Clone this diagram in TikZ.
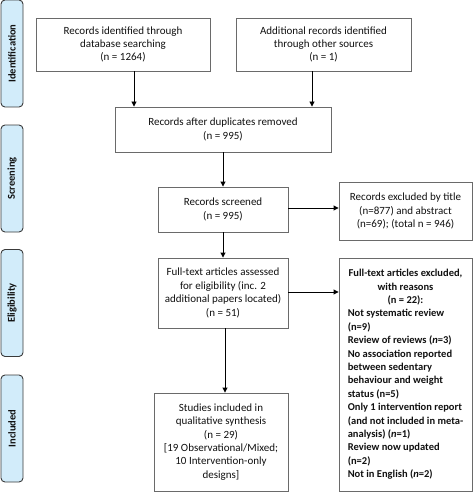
\documentclass[tikz,border=0pt]{standalone}
\usepackage{fontspec}
\setmainfont{Carlito}
\usetikzlibrary{arrows.meta}
\definecolor{boxline}{HTML}{6A6A6A}
\definecolor{txt}{HTML}{111111}
\definecolor{phasefill}{HTML}{D2ECFA}
\definecolor{phaseline}{HTML}{3A3A3A}
\tikzset{
  x=1pt, y=-1pt,
  basebox/.style={draw=boxline, line width=0.9pt, fill=white, text=txt,
    inner sep=2pt, font=\fontsize{11}{13.4}\selectfont},
  box/.style={basebox, align=center},
  phase/.style={draw=phaseline, line width=0.9pt, fill=phasefill, rounded corners=4pt,
    rotate=90, minimum width=107pt, minimum height=22pt, inner sep=0pt,
    text=txt, font=\bfseries\fontsize{10.5}{12}\selectfont},
  arr/.style={draw=black, line width=0.9pt, -{Triangle[length=5pt,width=5pt]}},
}
\newcommand{\hdline}[1]{\multicolumn{1}{@{}c@{}}{#1}}
\begin{document}
\begin{tikzpicture}
\useasboundingbox (0,0) rectangle (473,492);
% phase labels
\node[phase] (pid) at (12,53.5) {Identification};
\node[phase] (psc) at (12,178.5) {Screening};
\node[phase] (pel) at (12,303) {Eligibility};
\node[phase] (pin) at (12,428.5) {Included};
% boxes
\node[box, minimum width=174pt, minimum height=53pt] (b1) at (123,44.5)
  {Records identified through\\database searching\\(n = 1264)};
\node[box, minimum width=175pt, minimum height=53pt] (b2) at (323.5,44.5)
  {Additional records identified\\through other sources\\(n = 1)};
\node[box, minimum width=216pt, minimum height=45pt] (b3) at (223,129.5)
  {Records after duplicates removed\\(n = 995)};
\node[box, minimum width=130pt, minimum height=45pt] (b4) at (223,209.5)
  {Records screened\\(n = 995)};
\node[box, minimum width=133pt, minimum height=58pt] (b5) at (405.5,211)
  {Records excluded by title\\(n=877) and abstract\\(n=69); (total n = 946)};
\node[box, minimum width=130pt, minimum height=70pt] (b6) at (223,293)
  {Full-text articles assessed\\for eligibility (inc. 2\\additional papers located)\\(n = 51)};
\node[basebox, minimum width=133pt, minimum height=233pt, inner xsep=4pt,
      font=\bfseries\fontsize{10.5}{13.4}\selectfont] (b7) at (405.5,374.5)
  {\renewcommand{\arraystretch}{1}\setlength{\tabcolsep}{0pt}%
   \begin{tabular}{@{}l@{}}
   \hdline{Full-text articles excluded,}\\
   \hdline{with reasons}\\
   \hdline{(n = 22):}\\
   Not systematic review\\
   (n=9)\\
   Review of reviews (\textit{n}=3)\\
   No association reported\\
   between sedentary\\
   behaviour and weight\\
   status (n=5)\\
   Only 1 intervention report\\
   (and not included in meta-\\
   analysis) (\textit{n}=1)\\
   Review now updated\\
   (n=2)\\
   Not in English (\textit{n}=2)
   \end{tabular}};
\node[box, minimum width=134pt, minimum height=98pt] (b8) at (221,442)
  {Studies included in\\qualitative synthesis\\(n = 29)\\{[}19 Observational/Mixed;\\10 Intervention-only\\designs]};
% connectors
\draw[arr] ([xshift=11pt]b1.south) -- ([xshift=11pt]b1.south |- b3.north);
\draw[arr] ([xshift=-11.5pt]b2.south) -- ([xshift=-11.5pt]b2.south |- b3.north);
\draw[arr] (b3.south) -- (b4.north);
\draw[arr] ([yshift=1.5pt]b4.east) -- ([yshift=1.5pt]b4.east -| b5.west);
\draw[arr] (b4.south) -- (b6.north);
\draw[arr] ([yshift=1pt]b6.east) -- ([yshift=1pt]b6.east -| b7.west);
\draw[arr] ([xshift=2pt]b6.south) -- ([xshift=2pt]b6.south |- b8.north);
\end{tikzpicture}
\end{document}
